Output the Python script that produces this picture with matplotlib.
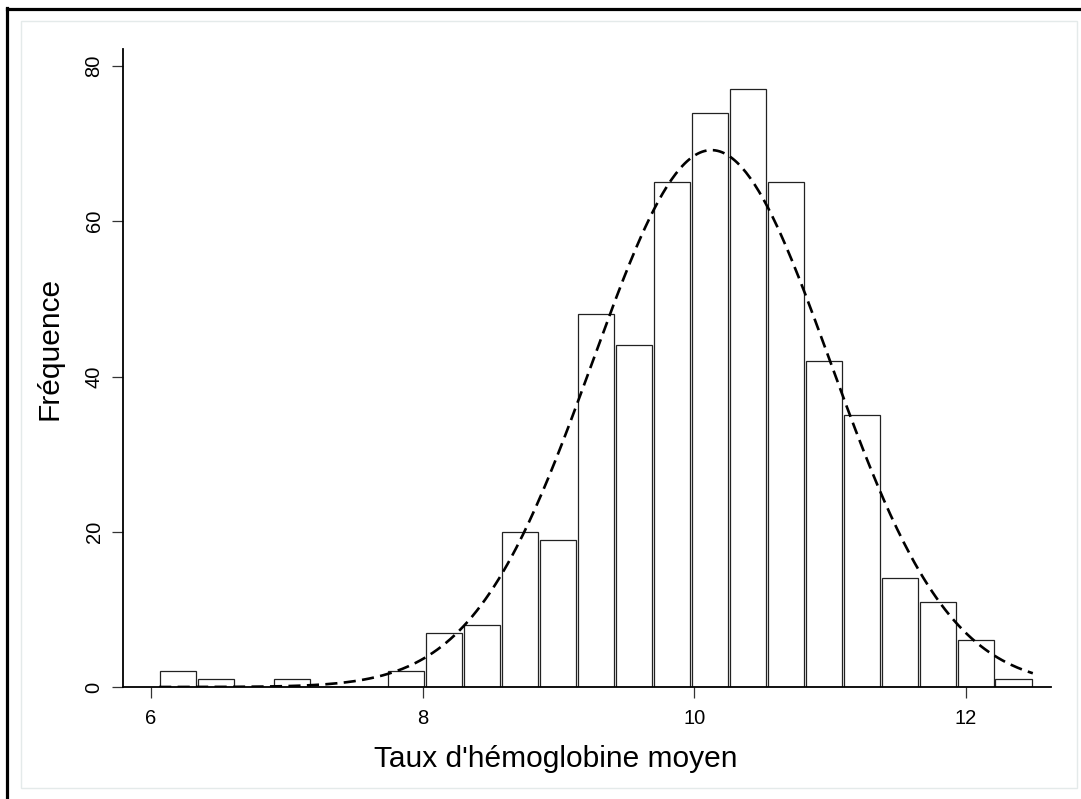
import numpy as np
import matplotlib
matplotlib.use("Agg")
import matplotlib.pyplot as plt
from matplotlib.lines import Line2D
from matplotlib.patches import Rectangle

plt.rcParams['font.family'] = ['Liberation Sans', 'DejaVu Sans']

# Histogram data
bin_start = 6.06
bin_width = 0.2797
counts = [2, 1, 0, 1, 0, 0, 2, 7, 8, 20, 19, 48, 44, 65, 74, 77, 65, 42, 35, 14, 11, 6, 1]
x_ticks = [6, 8, 10, 12]
y_ticks = [0, 20, 40, 60, 80]
x_label = "Taux d'hémoglobine moyen"
y_label = "Fréquence"

counts = np.array(counts, dtype=float)
nb = len(counts)
edges = bin_start + bin_width * np.arange(nb + 1)
mids = (edges[:-1] + edges[1:]) / 2
N = counts.sum()
mean = (counts * mids).sum() / N
sd = np.sqrt((counts * (mids - mean) ** 2).sum() / N)

W, H = 1081, 799
fig = plt.figure(figsize=(W / 100, H / 100), dpi=100)

def px(x0, y0, x1, y1):
    return [x0 / W, 1 - y1 / H, (x1 - x0) / W, (y1 - y0) / H]

# outer frames
fig.add_artist(Rectangle((21 / W, 1 - 788 / H), (1077 - 21) / W, (788 - 21) / H,
                         transform=fig.transFigure, fill=False,
                         edgecolor='#e4eaea', linewidth=1.0))
fig.add_artist(Line2D([7.5 / W, 7.5 / W], [0, 1 - 7.5 / H], transform=fig.transFigure,
                      color='black', linewidth=2.3, solid_capstyle='projecting'))
fig.add_artist(Line2D([7.5 / W, 1], [1 - 8.5 / H, 1 - 8.5 / H], transform=fig.transFigure,
                      color='black', linewidth=2.3, solid_capstyle='projecting'))

ax = fig.add_axes(px(123, 49, 1051, 687))
ax.bar(mids, counts, width=bin_width * 0.965, align='center', color='white',
       edgecolor='#222222', linewidth=0.9, zorder=2)

xs = np.linspace(edges[0], edges[-1], 400)
ys = N * bin_width / (sd * np.sqrt(2 * np.pi)) * np.exp(-0.5 * ((xs - mean) / sd) ** 2)
ax.plot(xs, ys, color='black', linewidth=1.9, dashes=(4.6, 2.4), zorder=3)

ax.set_xlim(5.794, 12.627)
ax.set_ylim(0, 82.2)
ax.set_xticks(x_ticks)
ax.set_yticks(y_ticks)
ax.set_xticklabels([str(v) for v in x_ticks], fontsize=14.5)
ax.set_yticklabels([str(v) for v in y_ticks], fontsize=14.5, rotation=90, va='center')
ax.tick_params(axis='both', direction='out', length=8, width=0.9, color='#333333')
ax.tick_params(axis='x', pad=8)
ax.tick_params(axis='y', pad=6)
for s in ['top', 'right']:
    ax.spines[s].set_visible(False)
for s in ['left', 'bottom']:
    ax.spines[s].set_linewidth(1.3)
ax.set_xlabel(x_label, fontsize=21.5)
ax.set_ylabel(y_label, fontsize=21.5)
ax.xaxis.set_label_coords(0.4666, -0.091)
ax.yaxis.set_label_coords(-0.064, 0.53)

fig.savefig('out.png', dpi=100, facecolor='white')
